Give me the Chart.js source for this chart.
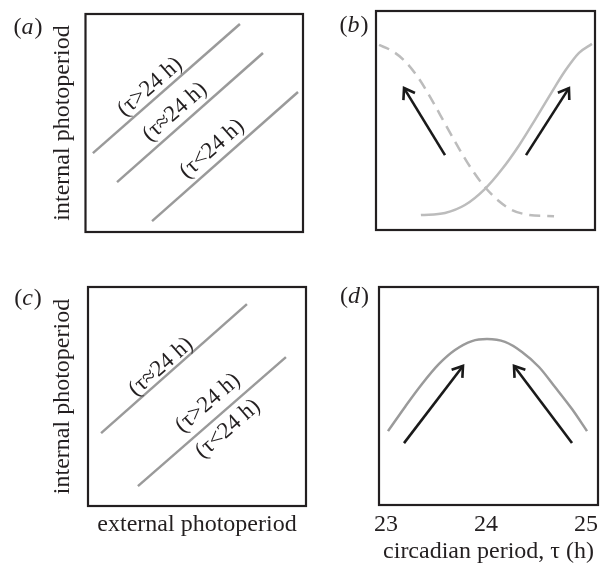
<!DOCTYPE html>
<html><head><meta charset="utf-8">
<script src="https://cdn.jsdelivr.net/npm/chart.js@4/dist/chart.umd.min.js"></script>
<style>
html,body{margin:0;padding:0;background:#fff;width:605px;height:564px;overflow:hidden;position:relative}
canvas{position:absolute}
</style></head><body>
<canvas id="ca" width="310" height="255" style="left:0;top:0"></canvas>
<canvas id="cb" width="305" height="255" style="left:300px;top:0"></canvas>
<canvas id="cc" width="310" height="304" style="left:0;top:260px"></canvas>
<canvas id="cd" width="305" height="304" style="left:300px;top:260px"></canvas>
<script>
// ---------- text ----------
const panelLetters = ['a', 'b', 'c', 'd'];
const yTitle = 'internal photoperiod';
const xTitleC = 'external photoperiod';
const xTitleD = 'circadian period, τ (h)';
const tickValuesD = [23, 24, 25];
const lineLabels = ['(τ>24 h)', '(τ≈24 h)', '(τ<24 h)'];

// ---------- panel (a): relative units 0-10 ----------
const aLongX = [0.34, 7.10],  aLongY = [3.62, 9.54];   // τ>24 h
const aEqX   = [1.45, 8.16],  aEqY   = [2.29, 8.21];   // τ≈24 h
const aShortX = [3.06, 9.77], aShortY = [0.50, 6.42];  // τ<24 h
const aLabelX = [2.97, 4.11, 5.82], aLabelY = [6.65, 5.50, 3.81];

// ---------- panel (b) ----------
const bDashX = [0.14, 0.73, 1.32, 1.96, 2.56, 3.15, 3.79, 4.38, 4.98, 5.62, 6.21, 6.99, 8.13];
const bDashY = [8.45, 8.18, 7.71, 6.91, 5.92, 4.86, 3.72, 2.76, 1.95, 1.31, 0.91, 0.69, 0.63];
const bSolidX = [2.05, 3.15, 4.06, 4.98, 5.75, 6.53, 7.26, 8.04, 8.63, 9.27, 9.86];
const bSolidY = [0.68, 0.78, 1.14, 1.88, 2.77, 3.86, 5.03, 6.32, 7.26, 8.09, 8.50];
const bArrowLeftX = [3.15, 1.28],  bArrowLeftY = [3.42, 6.48];
const bArrowRightX = [6.85, 8.81], bArrowRightY = [3.42, 6.48];

// ---------- panel (c) ----------
const cEqX = [0.60, 7.29],   cEqY = [3.33, 9.22];      // τ≈24 h
const cNeqX = [2.29, 9.08],  cNeqY = [0.91, 6.80];     // τ>24 h and τ<24 h
const cLabelX = [5.50, 3.35, 6.42], cLabelY = [4.70, 6.35, 3.52];

// ---------- panel (d): x in hours ----------
const dCurveX = [23.02, 23.19, 23.36, 23.53, 23.69, 23.86, 24.01, 24.19, 24.36, 24.53, 24.69, 24.86, 25.01];
const dCurveY = [3.39, 4.50, 5.55, 6.47, 7.11, 7.52, 7.61, 7.48, 7.02, 6.33, 5.41, 4.40, 3.39];
const dArrowLeftX = [23.18, 23.77],  dArrowLeftY = [2.84, 6.38];
const dArrowRightX = [24.86, 24.28], dArrowRightY = [2.84, 6.38];

// ---------- styles ----------
const INK = '#231f20', GREY = '#9a9a9a', LIGHT = '#bcbcbc', ARROW = '#1a1a1a';
const FAMILY = "'Liberation Serif', 'Times New Roman', serif";
Chart.defaults.font.family = FAMILY;
Chart.defaults.color = INK;
Chart.defaults.animation = false;

function pts(xs, ys) { return xs.map((x, i) => ({ x, y: ys[i] })); }
function lineDs(xs, ys, color, extra) {
  return Object.assign({ data: pts(xs, ys), showLine: true, borderColor: color, borderWidth: 2.5,
    pointRadius: 0, pointHoverRadius: 0, fill: false }, extra || {});
}
function arrowDs(xs, ys) { return lineDs(xs, ys, ARROW, { arrowHead: true, borderWidth: 2.6 }); }

const decor = {
  id: 'decor',
  afterDatasetsDraw(chart, args, opts) {
    const ctx = chart.ctx, xs = chart.scales.x, ys = chart.scales.y, ca = chart.chartArea;
    ctx.save();
    chart.data.datasets.forEach(ds => {
      if (!ds.arrowHead) return;
      const n = ds.data.length, p0 = ds.data[n - 2], p1 = ds.data[n - 1];
      const x0 = xs.getPixelForValue(p0.x), y0 = ys.getPixelForValue(p0.y);
      const x1 = xs.getPixelForValue(p1.x), y1 = ys.getPixelForValue(p1.y);
      const a = Math.atan2(y1 - y0, x1 - x0), L = 12, h = 0.6;
      ctx.beginPath();
      ctx.moveTo(x1 - L * Math.cos(a - h), y1 - L * Math.sin(a - h));
      ctx.lineTo(x1, y1);
      ctx.lineTo(x1 - L * Math.cos(a + h), y1 - L * Math.sin(a + h));
      ctx.strokeStyle = ds.borderColor; ctx.lineWidth = ds.borderWidth;
      ctx.lineJoin = 'miter'; ctx.stroke();
    });
    (opts.texts || []).forEach(t => {
      const ref = chart.data.datasets[t.along].data;
      const ax = xs.getPixelForValue(ref[0].x), ay = ys.getPixelForValue(ref[0].y);
      const bx = xs.getPixelForValue(ref[ref.length - 1].x), by = ys.getPixelForValue(ref[ref.length - 1].y);
      const ang = Math.atan2(by - ay, bx - ax);
      ctx.save();
      ctx.translate(xs.getPixelForValue(t.x), ys.getPixelForValue(t.y));
      ctx.rotate(ang);
      ctx.font = '23px ' + FAMILY; ctx.fillStyle = INK;
      ctx.textAlign = 'center'; ctx.textBaseline = 'middle';
      ctx.fillText(t.text, 0, 0);
      ctx.restore();
    });
    ctx.strokeStyle = INK; ctx.lineWidth = 2.2;
    ctx.strokeRect(ca.left, ca.top, ca.right - ca.left, ca.bottom - ca.top);
    if (opts.letter) {
      const roman = '24px ' + FAMILY, ital = 'italic 24px ' + FAMILY;
      ctx.font = roman; const wp = ctx.measureText('(').width, wq = ctx.measureText(')').width;
      ctx.font = ital; const wl = ctx.measureText(opts.letter).width;
      let x = opts.letterPos[0] - (wp + wl + wq) / 2; const y = opts.letterPos[1];
      ctx.fillStyle = INK; ctx.textAlign = 'left'; ctx.textBaseline = 'alphabetic';
      ctx.font = roman; ctx.fillText('(', x, y); x += wp;
      ctx.font = ital; ctx.fillText(opts.letter, x, y); x += wl + 1;
      ctx.font = roman; ctx.fillText(')', x, y);
    }
    ctx.restore();
  }
};

const hidden = { type: 'linear', min: 0, max: 10, display: false };
function yTitled(width) {
  return { type: 'linear', min: 0, max: 10, display: true,
    ticks: { display: false }, grid: { display: false, drawTicks: false }, border: { display: false },
    title: { display: true, text: yTitle, color: INK, font: { size: 24 }, padding: { top: 48.6, bottom: 0 } },
    afterFit: s => { s.width = width; } };
}
function baseOpts(padding, scales, decorOpts) {
  return { responsive: false, animation: false, events: [],
    layout: { padding },
    plugins: { legend: { display: false }, tooltip: { enabled: false }, decor: decorOpts },
    scales };
}

// (a)
new Chart(document.getElementById('ca'), {
  type: 'scatter',
  data: { datasets: [lineDs(aLongX, aLongY, GREY), lineDs(aEqX, aEqY, GREY), lineDs(aShortX, aShortY, GREY)] },
  options: baseOpts({ left: 0, top: 14, right: 7, bottom: 23 },
    { x: hidden, y: yTitled(85.5) },
    { letter: panelLetters[0], letterPos: [27.5, 33.5],
      texts: [0, 1, 2].map(i => ({ text: lineLabels[i], x: aLabelX[i], y: aLabelY[i], along: i })) }),
  plugins: [decor]
});

// (b)
new Chart(document.getElementById('cb'), {
  type: 'scatter',
  data: { datasets: [
    lineDs(bDashX, bDashY, LIGHT, { borderDash: [11, 7], cubicInterpolationMode: 'monotone' }),
    lineDs(bSolidX, bSolidY, LIGHT, { cubicInterpolationMode: 'monotone' }),
    arrowDs(bArrowLeftX, bArrowLeftY), arrowDs(bArrowRightX, bArrowRightY)] },
  options: baseOpts({ left: 76, top: 11, right: 10, bottom: 25 },
    { x: hidden, y: hidden },
    { letter: panelLetters[1], letterPos: [53.5, 32] }),
  plugins: [decor]
});

// (c)
new Chart(document.getElementById('cc'), {
  type: 'scatter',
  data: { datasets: [lineDs(cNeqX, cNeqY, GREY), lineDs(cEqX, cEqY, GREY)] },
  options: baseOpts({ left: 0, top: 27, right: 4, bottom: 0 },
    { x: { type: 'linear', min: 0, max: 10, display: true,
        ticks: { display: false }, grid: { display: false, drawTicks: false }, border: { display: false },
        title: { display: true, text: xTitleC, color: INK, font: { size: 24 }, padding: { top: 0, bottom: 24.9 } },
        afterFit: s => { s.height = 58; } },
      y: yTitled(88) },
    { letter: panelLetters[2], letterPos: [27.5, 45],
      texts: [
        { text: lineLabels[0], x: cLabelX[0], y: cLabelY[0], along: 0 },
        { text: lineLabels[1], x: cLabelX[1], y: cLabelY[1], along: 1 },
        { text: lineLabels[2], x: cLabelX[2], y: cLabelY[2], along: 0 }] }),
  plugins: [decor]
});

// (d)
new Chart(document.getElementById('cd'), {
  type: 'scatter',
  data: { datasets: [
    lineDs(dCurveX, dCurveY, GREY, { cubicInterpolationMode: 'monotone' }),
    arrowDs(dArrowLeftX, dArrowLeftY), arrowDs(dArrowRightX, dArrowRightY)] },
  options: baseOpts({ left: 79, top: 27, right: 7, bottom: 0 },
    { x: { type: 'linear', min: 22.93, max: 25.12, display: true,
        afterBuildTicks: s => { s.ticks = tickValuesD.map(v => ({ value: v })); },
        ticks: { color: INK, font: { size: 24 }, padding: 5.3, maxRotation: 0, autoSkip: false },
        grid: { display: false, drawTicks: false }, border: { display: false },
        title: { display: true, text: xTitleD, color: INK, font: { size: 24, lineHeight: 1 }, padding: { top: 0, bottom: 0.3 } },
        afterFit: s => { s.height = 59; } },
      y: hidden },
    { letter: panelLetters[3], letterPos: [54, 43] }),
  plugins: [decor]
});
</script>
</body></html>
